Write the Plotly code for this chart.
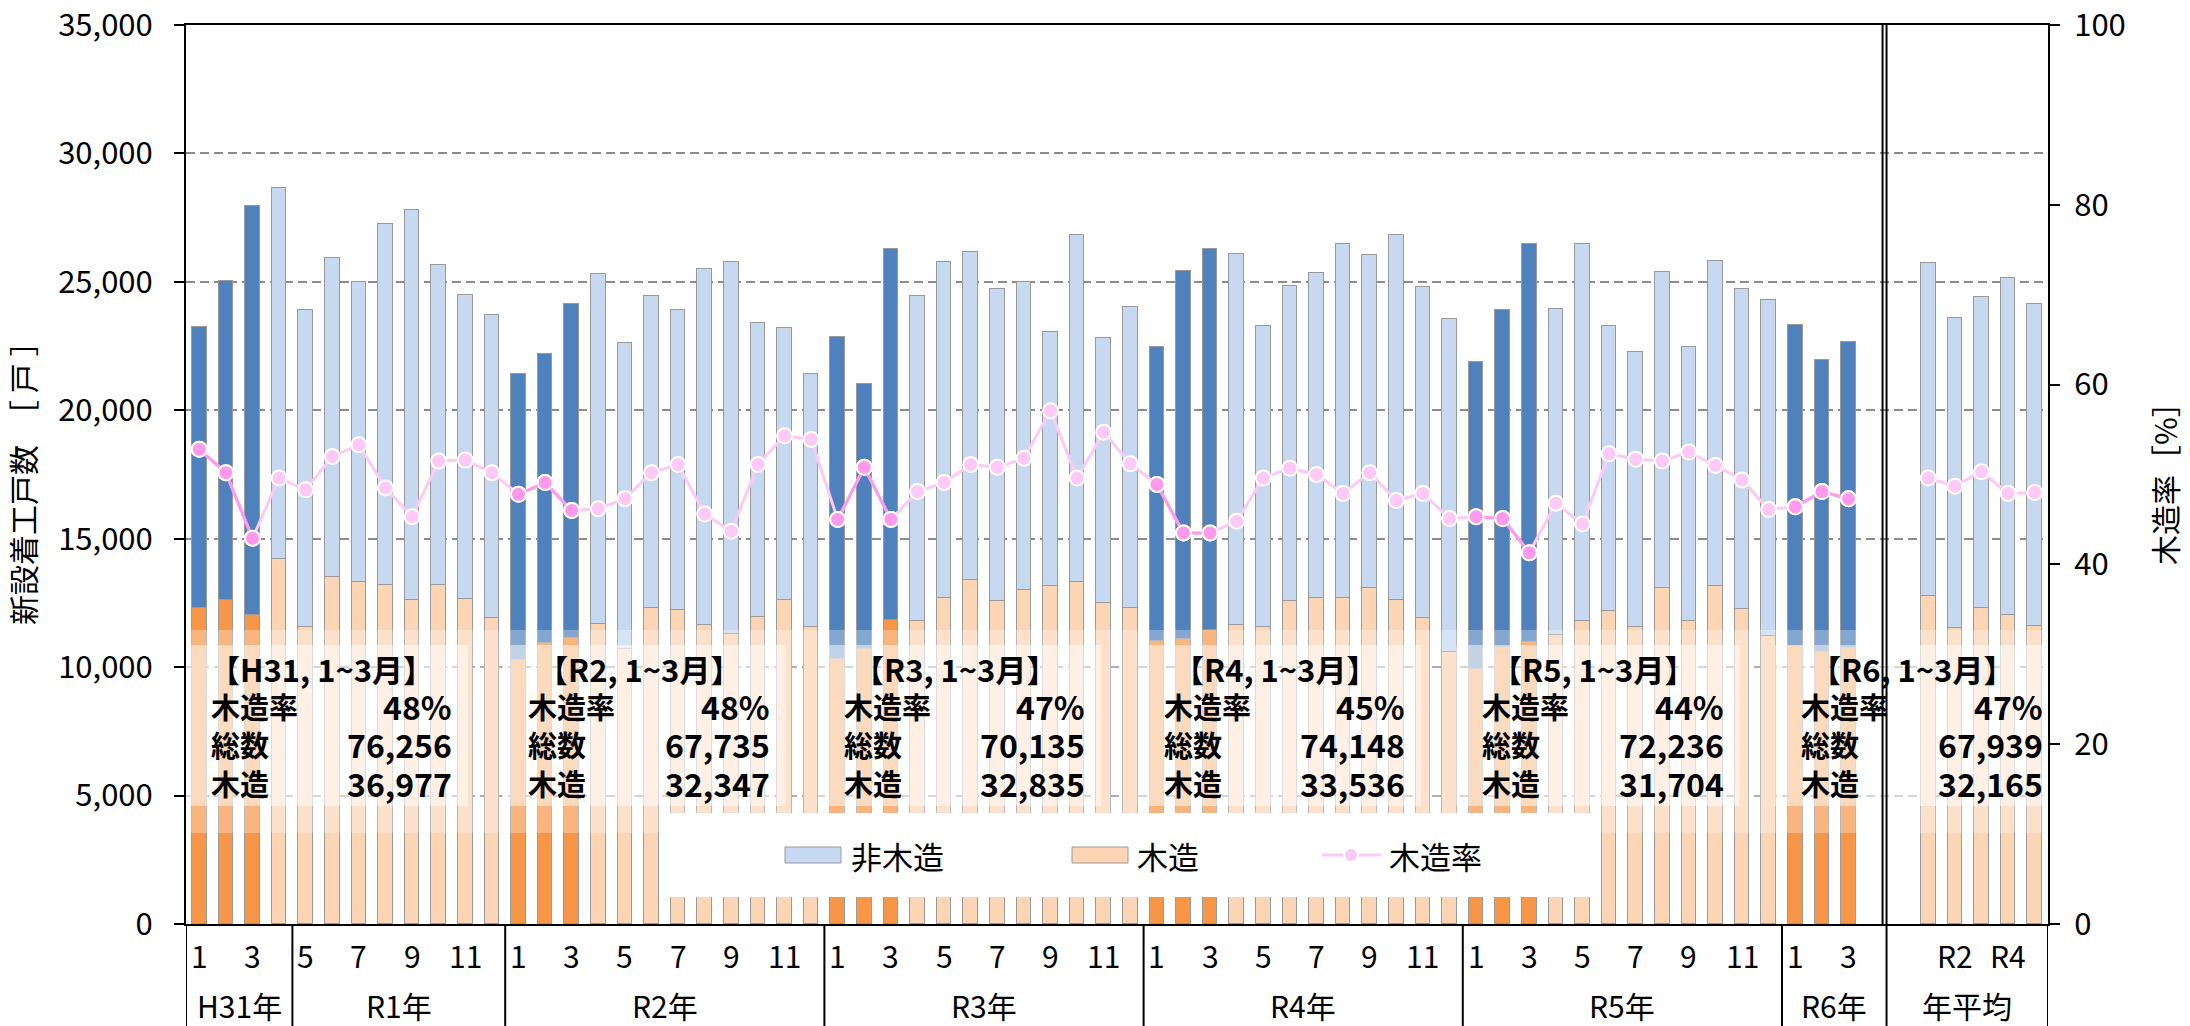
import plotly.graph_objects as go

# ---------------- data ----------------
period_names = ["H31年", "R1年", "R2年", "R3年", "R4年", "R5年", "R6年"]
period_sizes = [4, 8, 12, 12, 12, 12, 3]

month_numbers = [1, 2, 3, 4,
                 5, 6, 7, 8, 9, 10, 11, 12,
                 1, 2, 3, 4, 5, 6, 7, 8, 9, 10, 11, 12,
                 1, 2, 3, 4, 5, 6, 7, 8, 9, 10, 11, 12,
                 1, 2, 3, 4, 5, 6, 7, 8, 9, 10, 11, 12,
                 1, 2, 3, 4, 5, 6, 7, 8, 9, 10, 11, 12,
                 1, 2, 3]

total_units = [23240, 25050, 27966, 28640,
               23920, 25940, 24980, 27250, 27800, 25660, 24500, 23720,
               21430, 22180, 24125, 25300, 22630, 24460, 23890, 25510, 25760, 23390, 23200, 21420,
               22850, 21005, 26280, 24460, 25770, 26180, 24720, 24990, 23050, 26840, 22810, 24010,
               22460, 25420, 26268, 26100, 23270, 24820, 25330, 26470, 26030, 26830, 24800, 23550,
               21865, 23905, 26466, 23930, 26470, 23300, 22270, 25380, 22450, 25800, 24740, 24310,
               23316, 21976, 22647]

wood_units = [12310, 12620, 12047, 14210,
              11550, 13500, 13330, 13210, 12600, 13210, 12670, 11930,
              10280, 10935, 11132, 11680, 10710, 12300, 12220, 11630, 11300, 11940, 12610, 11550,
              10300, 10690, 11845, 11780, 12690, 13390, 12560, 13000, 13170, 13320, 12480, 12300,
              11010, 11080, 11446, 11650, 11550, 12590, 12680, 12680, 13080, 12630, 11900, 10600,
              9930, 10800, 10974, 11260, 11780, 12200, 11550, 13080, 11780, 13170, 12260, 11220,
              10840, 10590, 10735]

wood_rate = [52.8, 50.2, 42.9, 49.6,
             48.3, 52.0, 53.3, 48.5, 45.3, 51.5, 51.6, 50.2,
             47.8, 49.1, 46.0, 46.2, 47.3, 50.2, 51.1, 45.6, 43.7, 51.1, 54.3, 53.9,
             45.0, 50.8, 45.0, 48.1, 49.1, 51.1, 50.8, 51.8, 57.1, 49.6, 54.7, 51.2,
             48.9, 43.5, 43.5, 44.8, 49.6, 50.7, 50.0, 47.9, 50.2, 47.1, 47.9, 45.1,
             45.3, 45.1, 41.3, 46.8, 44.5, 52.3, 51.7, 51.5, 52.5, 51.0, 49.4, 46.1,
             46.4, 48.1, 47.3]

avg_labels = ["R1", "R2", "R3", "R4", "R5"]
avg_total = [25720, 23590, 24420, 25160, 24150]
avg_wood = [12760, 11520, 12290, 12040, 11590]
avg_rate = [49.6, 48.7, 50.3, 47.9, 48.0]
avg_group_name = "年平均"

summary_titles = ["【H31, 1~3月】", "【R2, 1~3月】", "【R3, 1~3月】",
                  "【R4, 1~3月】", "【R5, 1~3月】", "【R6, 1~3月】"]
summary_rate = ["48%", "48%", "47%", "45%", "44%", "47%"]
summary_total = ["76,256", "67,735", "70,135", "74,148", "72,236", "67,939"]
summary_wood = ["36,977", "32,347", "32,835", "33,536", "31,704", "32,165"]
summary_row_labels = ["木造率", "総数", "木造"]

legend_names = ["非木造", "木造", "木造率"]

# ---------------- style ----------------
FONT = "Noto Sans CJK JP"
C_NW_LIGHT, C_NW_DARK = "#C6D9F1", "#4F81BD"
C_W_LIGHT, C_W_DARK = "#FCD5B5", "#F79646"
C_PINK_LIGHT, C_PINK_DARK = "#FFC9F7", "#FF99EE"
OUTLINE = "#9A9A9A"

W_FIG, H_FIG = 2190, 1026
L, R, T, B = 186, 2048, 25, 924
PW, PH = R - L, B - T


def px(X):
    return (X - L) / PW


def py(Y):
    return (B - Y) / PH


n_month = len(total_units)
month_x = list(range(n_month))
avg_x = [n_month + 2 + i for i in range(len(avg_labels))]
x_max = avg_x[-1] + 0.5

q1 = [m <= 3 for m in month_numbers]
nonwood_units = [t - w for t, w in zip(total_units, wood_units)]
avg_nonwood = [t - w for t, w in zip(avg_total, avg_wood)]

bx = month_x + avg_x
wood_vals = wood_units + avg_wood
nonwood_vals = nonwood_units + avg_nonwood
wood_cols = [C_W_DARK if d else C_W_LIGHT for d in q1] + [C_W_LIGHT] * len(avg_x)
nw_cols = [C_NW_DARK if d else C_NW_LIGHT for d in q1] + [C_NW_LIGHT] * len(avg_x)

BW = 0.55
fig = go.Figure()
fig.add_trace(go.Bar(x=bx, y=wood_vals, width=BW, name=legend_names[1],
                     marker=dict(color=wood_cols, line=dict(color=OUTLINE, width=1)),
                     showlegend=False))
fig.add_trace(go.Bar(x=bx, y=nonwood_vals, width=BW, name=legend_names[0],
                     marker=dict(color=nw_cols, line=dict(color=OUTLINE, width=1)),
                     showlegend=False))

mk_light = dict(size=15, color=C_PINK_LIGHT, line=dict(color="white", width=2))
mk_dark = dict(size=15, color=C_PINK_DARK, line=dict(color="white", width=2))
fig.add_trace(go.Scatter(x=month_x, y=wood_rate, yaxis="y2", mode="lines+markers",
                         line=dict(color=C_PINK_LIGHT, width=3), marker=mk_light,
                         name=legend_names[2], showlegend=False))
fig.add_trace(go.Scatter(x=avg_x, y=avg_rate, yaxis="y2", mode="lines+markers",
                         line=dict(color=C_PINK_LIGHT, width=3), marker=mk_light,
                         showlegend=False))
# darker Jan-Mar segments
dx, dy = [], []
i = 0
while i < n_month:
    if q1[i]:
        j = i
        while j < n_month and q1[j]:
            dx.append(month_x[j]); dy.append(wood_rate[j]); j += 1
        dx.append(None); dy.append(None)
        i = j
    else:
        i += 1
fig.add_trace(go.Scatter(x=dx, y=dy, yaxis="y2", mode="lines+markers",
                         line=dict(color=C_PINK_DARK, width=3), marker=mk_dark,
                         showlegend=False, connectgaps=False))

shapes = []
annotations = []

BOXFONT = dict(family=FONT, color="black", weight=600)

# translucent band and text boxes
shapes.append(dict(type="rect", xref="paper", yref="paper", x0=0, x1=1,
                   y0=py(833), y1=py(630), fillcolor="white", opacity=0.3,
                   line=dict(width=0), layer="above"))
jan_idx = [k for k in range(n_month) if month_numbers[k] == 1]
box_offset = [0.35, 0.29, 0.16, 0.18, 0.15, 0.14]
for n, k0 in enumerate(jan_idx):
    left = k0 + box_offset[n]
    x0b = left - 0.9
    x1b = min(left + 9.75, x_max)
    shapes.append(dict(type="rect", xref="x", yref="paper", x0=x0b, x1=x1b,
                       y0=py(806), y1=py(645), fillcolor="white", opacity=0.5,
                       line=dict(width=0), layer="above"))
    annotations.append(dict(text=summary_titles[n], x=left + 4.25, y=py(668), xref="x", yref="paper",
                            showarrow=False, xanchor="center", yanchor="middle",
                            font=dict(BOXFONT, size=31)))
    vals = [summary_rate[n], summary_total[n], summary_wood[n]]
    for r, (lab, val) in enumerate(zip(summary_row_labels, vals)):
        yy = py(706 + r * 38.3)
        annotations.append(dict(text=lab, x=left, y=yy, xref="x", yref="paper",
                                showarrow=False, xanchor="left", yanchor="middle",
                                font=dict(BOXFONT, size=29)))
        annotations.append(dict(text=val, x=left + 9.23, y=yy, xref="x", yref="paper",
                                showarrow=False, xanchor="right", yanchor="middle",
                                font=dict(BOXFONT, size=32)))

# double vertical line separating annual averages
for xv in (n_month + 0.28, n_month + 0.43):
    shapes.append(dict(type="line", xref="x", yref="paper", x0=xv, x1=xv, y0=0, y1=1,
                       line=dict(color="black", width=2), layer="above"))

# category axis: month labels
for k, m in enumerate(month_numbers):
    if k % 2 == 0:
        annotations.append(dict(text=str(m), x=month_x[k], y=py(955), xref="x", yref="paper",
                                showarrow=False, xanchor="center", yanchor="middle",
                                font=dict(family=FONT, size=30, color="black")))
for k, lab in zip(avg_x, avg_labels):
    if k % 2 == 0:
        annotations.append(dict(text=lab, x=k, y=py(955), xref="x", yref="paper",
                                showarrow=False, xanchor="center", yanchor="middle",
                                font=dict(family=FONT, size=30, color="black")))

# group labels and separators
bounds = [-0.5]
s = 0
for sz in period_sizes:
    s += sz
    bounds.append(s - 0.5)
bounds[-1] = n_month + 0.43  # R6 group includes the blank slot
bounds.append(x_max)
names = period_names + [avg_group_name]
for g, nm in enumerate(names):
    c = (bounds[g] + bounds[g + 1]) / 2
    annotations.append(dict(text=nm, x=c, y=py(1005), xref="x", yref="paper",
                            showarrow=False, xanchor="center", yanchor="middle",
                            font=dict(family=FONT, size=30, color="black")))
for bv in bounds:
    shapes.append(dict(type="line", xref="x", yref="paper", x0=bv, x1=bv, y0=0, y1=py(1030),
                       line=dict(color="black", width=2)))

# legend (manual)
shapes.append(dict(type="rect", xref="paper", yref="paper", x0=px(660), x1=px(1600),
                   y0=py(897), y1=py(813), fillcolor="white", line=dict(width=0), layer="above"))
shapes.append(dict(type="rect", xref="paper", yref="paper", x0=px(785), x1=px(841),
                   y0=py(863), y1=py(847), fillcolor=C_NW_LIGHT, line=dict(color=OUTLINE, width=1),
                   layer="above"))
shapes.append(dict(type="rect", xref="paper", yref="paper", x0=px(1072), x1=px(1128),
                   y0=py(863), y1=py(847), fillcolor=C_W_LIGHT, line=dict(color=OUTLINE, width=1),
                   layer="above"))
shapes.append(dict(type="line", xref="paper", yref="paper", x0=px(1322), x1=px(1381),
                   y0=py(855), y1=py(855), line=dict(color=C_PINK_LIGHT, width=3), layer="above"))
shapes.append(dict(type="circle", xref="paper", yref="paper", x0=px(1344), x1=px(1358),
                   y0=py(862), y1=py(848), fillcolor=C_PINK_LIGHT, line=dict(color="white", width=2),
                   layer="above"))
for txt, X in zip(legend_names, [849, 1135, 1387]):
    annotations.append(dict(text=txt, x=px(X), y=py(855), xref="paper", yref="paper",
                            showarrow=False, xanchor="left", yanchor="middle",
                            font=dict(family=FONT, size=31, color="black")))

# axis titles
annotations.append(dict(text="新設着工戸数　［ 戸 ］", x=px(22), y=py(476), xref="paper", yref="paper",
                        showarrow=False, textangle=-90, xanchor="center", yanchor="middle",
                        font=dict(family=FONT, size=30, color="black")))
annotations.append(dict(text="木造率［%］", x=px(2164), y=py(476), xref="paper", yref="paper",
                        showarrow=False, textangle=-90, xanchor="center", yanchor="middle",
                        font=dict(family=FONT, size=30, color="black")))

fig.update_layout(
    width=W_FIG, height=H_FIG,
    margin=dict(l=L, r=W_FIG - R, t=T, b=H_FIG - B, pad=0, autoexpand=False),
    paper_bgcolor="white", plot_bgcolor="white",
    barmode="stack", bargap=0,
    showlegend=False,
    font=dict(family=FONT, size=30, color="black"),
    xaxis=dict(range=[-0.5, x_max], showticklabels=False, ticks="", showgrid=False,
               automargin=False,
               zeroline=False, showline=True, linecolor="black", linewidth=2, mirror=True),
    yaxis=dict(range=[0, 35000], dtick=5000, tickformat=",", showgrid=True, automargin=False,
               gridcolor="#8C8C8C", gridwidth=1.5, griddash="9px,5px", zeroline=False,
               showline=True, linecolor="black", linewidth=2, ticks="outside", ticklen=10,
               tickwidth=2, tickcolor="black", ticklabelstandoff=15,
               ticklabeloverflow="allow",
               tickfont=dict(family=FONT, size=31, color="black")),
    yaxis2=dict(range=[0, 100], dtick=20, overlaying="y", side="right", showgrid=False,
                automargin=False,
                zeroline=False, showline=True, linecolor="black", linewidth=2,
                ticks="outside", ticklen=10, tickwidth=2, tickcolor="black",
                ticklabelstandoff=8, ticklabeloverflow="allow",
                tickfont=dict(family=FONT, size=31, color="black")),
    shapes=shapes,
    annotations=annotations,
)

fig.write_html("out.html", config={"displayModeBar": False},
               post_script="document.body.style.margin='0px';")
